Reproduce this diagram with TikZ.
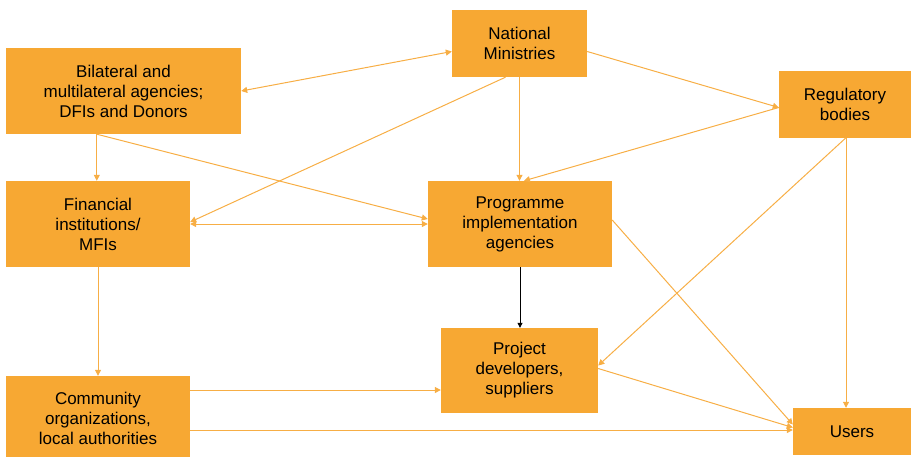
\documentclass[tikz,border=0pt]{standalone}
\usepackage{fontspec}
\setmainfont{Liberation Sans}
\usetikzlibrary{arrows.meta,calc}
\definecolor{boxor}{HTML}{F7A833}
\definecolor{lineor}{HTML}{F7AE45}
\begin{document}
\begin{tikzpicture}[x=1pt,y=-1pt,
  box/.style={fill=boxor,draw=none,inner sep=2pt,align=center,
    font=\fontsize{17}{20}\selectfont,text=black},
  conn/.style={draw=lineor,line width=1pt,-{Triangle[width=6pt,length=6pt]}},
  dconn/.style={draw=lineor,line width=1pt,{Triangle[width=6pt,length=6pt]}-{Triangle[width=6pt,length=6pt]}},
  bconn/.style={draw=black,line width=0.8pt,-{Triangle[width=5pt,length=5pt]}}]
\useasboundingbox (0,0) rectangle (912,456);
\node[box,minimum width=235pt,minimum height=86pt] (bil) at (123.5,91) {Bilateral and\\multilateral agencies;\\DFIs and Donors};
\node[box,minimum width=135pt,minimum height=67pt] (nm) at (519.5,43.5) {National\\Ministries};
\node[box,minimum width=132pt,minimum height=67pt] (reg) at (845,104) {Regulatory\\bodies};
\node[box,minimum width=184pt,minimum height=86pt] (fin) at (98,224) {Financial\\institutions/\\MFIs};
\node[box,minimum width=184pt,minimum height=86pt] (prog) at (520,224) {Programme\\implementation\\agencies};
\node[box,minimum width=157pt,minimum height=85pt] (proj) at (519.5,370.5) {Project\\developers,\\suppliers};
\node[box,minimum width=184pt,minimum height=84pt] (com) at (98,418) {Community\\organizations,\\local authorities};
\node[box,minimum width=118pt,minimum height=47pt] (users) at (852,431.5) {Users};
\coordinate (bs) at ([xshift=91pt]bil.south west);
\coordinate (c15) at ([yshift=28pt]com.east);
\coordinate (c16) at ([yshift=-12pt]com.east);
\coordinate (rs) at ([xshift=1pt]reg.south);
% connectors
\draw[dconn] (bil.east) -- ([yshift=-8pt]nm.west);
\draw[conn] ([xshift=-14pt]nm.south) -- ([yshift=2pt]fin.east);
\draw[conn] (nm.south) -- (nm.south |- prog.north);
\draw[conn] ([yshift=-8pt]nm.east) -- ([yshift=-3.5pt]reg.west);
\draw[conn] ([yshift=-3.5pt]reg.west) -- ([xshift=4pt]prog.north);
\draw[conn] (bs) -- (bs |- fin.north);
\draw[conn] (bs) -- ([yshift=5pt]prog.west);
\draw[dconn] (fin.east) -- (prog.west);
\draw[conn] (fin.south) -- (com.north);
\draw[bconn] (prog.south) -- (prog.south |- proj.north);
\draw[conn] (rs) -- (rs |- users.north);
\draw[conn] (rs) -- ([yshift=5pt]proj.east);
\draw[conn] ([yshift=4pt]prog.east) -- ([yshift=7pt]users.west);
\draw[conn] ([yshift=2pt]proj.east) -- ([yshift=4pt]users.west);
\draw[conn] (c15) -- (c15 -| proj.west);
\draw[conn] (c16) -- (c16 -| users.west);
\end{tikzpicture}
\end{document}
